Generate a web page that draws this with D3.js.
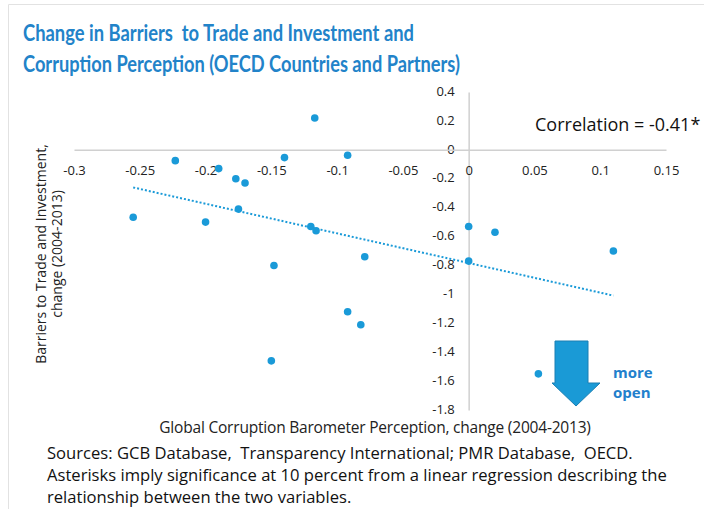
<!DOCTYPE html>
<html>
<head>
<meta charset="utf-8">
<script src="https://cdn.jsdelivr.net/npm/d3@7"></script>
<style>
  body { margin: 0; background: #fff; }
  svg text { font-family: "Open Sans", "Noto Sans", sans-serif; }
</style>
</head>
<body>
<div id="chart"></div>
<script>
// Change in GCB corruption perception (x) vs change in PMR barriers (y), 2004-2013.
var gcbChange = [-0.117, -0.223, -0.190, -0.140, -0.092, -0.177, -0.170, -0.255, -0.200, -0.175, -0.120,
  -0.116, -0.148, -0.079, -0.092, -0.082, -0.150, 0, 0.020, 0.110, 0, 0.053];
var pmrChange = [0.22, -0.075, -0.13, -0.054, -0.038, -0.20, -0.23, -0.467, -0.50, -0.41, -0.53,
  -0.56, -0.80, -0.74, -1.12, -1.21, -1.46, -0.53, -0.57, -0.70, -0.77, -1.55];
var xTicks = [-0.3, -0.25, -0.2, -0.15, -0.1, -0.05, 0, 0.05, 0.1, 0.15];
var yTicks = [0.4, 0.2, 0, -0.2, -0.4, -0.6, -0.8, -1, -1.2, -1.4, -1.6, -1.8];
var titleLines = ['Change in Barriers  to Trade and Investment and',
  'Corruption Perception (OECD Countries and Partners)'];
var yLabelLines = ['Barriers to Trade and Investment,', 'change (2004-2013)'];
var noteLines = ['Sources: GCB Database,  Transparency International; PMR Database,  OECD.',
  'Asterisks imply significance at 10 percent from a linear regression describing the',
  'relationship between the two variables.'];

var width = 704;
var height = 509;
var blue = '#1a9ad8';
var axisGray = '#d0d0d0';

var points = gcbChange.map(function(v, i) { return { x: v, y: pmrChange[i] }; });

var xScale = d3.scaleLinear().domain([-0.3, 0.15]).range([74, 666]);
var yScale = d3.scaleLinear().domain([-1.8, 0.4]).range([410, 92]);

var svg = d3.select('#chart').append('svg')
  .attr('width', width)
  .attr('height', height);

// Light frame at the top and left edge.
svg.append('path')
  .attr('d', 'M8.5,' + height + 'V4.5H' + width)
  .attr('fill', 'none')
  .attr('stroke', '#e2e2e2')
  .attr('stroke-width', 1);

// Title (the original face is a narrow one, so squeeze Lato to its width).
var titleWidths = [391, 437];
svg.append('text')
  .attr('fill', '#2283c9')
  .style('font-family', 'Lato, sans-serif')
  .style('font-weight', 'bold')
  .style('font-size', '22px')
  .selectAll('tspan')
  .data(titleLines)
  .enter().append('tspan')
  .attr('x', 23)
  .attr('y', function(d, i) { return 41 + i * 31; })
  .attr('xml:space', 'preserve')
  .attr('textLength', function(d, i) { return titleWidths[i]; })
  .attr('lengthAdjust', 'spacingAndGlyphs')
  .text(function(d) { return d; });

// Axes cross at zero.
var xAxis = d3.axisBottom(xScale)
  .tickValues(xTicks)
  .tickFormat(function(d) { return String(d); })
  .tickSize(0)
  .tickPadding(16);

var yAxis = d3.axisLeft(yScale)
  .tickValues(yTicks)
  .tickFormat(function(d) { return String(d); })
  .tickSize(0)
  .tickPadding(14);

var gx = svg.append('g')
  .attr('class', 'x axis')
  .attr('transform', 'translate(0,' + yScale(0) + ')')
  .call(xAxis);

var gy = svg.append('g')
  .attr('class', 'y axis')
  .attr('transform', 'translate(' + xScale(0) + ',0)')
  .call(yAxis);

[gx, gy].forEach(function(g) {
  g.select('.domain').attr('stroke', axisGray).attr('stroke-width', 1.5);
  g.selectAll('text')
    .attr('fill', '#222')
    .style('font-size', '13px')
    .style('font-family', '"Open Sans", sans-serif');
});
gy.selectAll('text').attr('dy', '0.25em');
gx.raise();

// Trend line from a least-squares fit.
var meanX = d3.mean(gcbChange);
var meanY = d3.mean(pmrChange);
var sxy = d3.sum(points, function(p) { return (p.x - meanX) * (p.y - meanY); });
var sxx = d3.sum(points, function(p) { return (p.x - meanX) * (p.x - meanX); });
var slope = sxy / sxx;
var intercept = meanY - slope * meanX;
var xExtent = d3.extent(gcbChange);

svg.append('line')
  .attr('x1', xScale(xExtent[0]))
  .attr('y1', yScale(intercept + slope * xExtent[0]))
  .attr('x2', xScale(xExtent[1]))
  .attr('y2', yScale(intercept + slope * xExtent[1]))
  .attr('stroke', blue)
  .attr('stroke-width', 2)
  .attr('stroke-dasharray', '2,2');

// Points.
svg.append('g')
  .selectAll('circle')
  .data(points)
  .enter().append('circle')
  .attr('cx', function(d) { return xScale(d.x); })
  .attr('cy', function(d) { return yScale(d.y); })
  .attr('r', 3.8)
  .attr('fill', blue);

// Correlation note.
svg.append('text')
  .attr('x', 535)
  .attr('y', 131)
  .attr('fill', '#111')
  .style('font-size', '18px')
  .text('Correlation = -0.41*');

// Axis titles.
svg.append('text')
  .attr('text-anchor', 'middle')
  .attr('x', 375)
  .attr('y', 433)
  .attr('fill', '#222')
  .style('font-size', '15.5px')
  .style('letter-spacing', '-0.2px')
  .text('Global Corruption Barometer Perception, change (2004-2013)');

svg.append('text')
  .attr('text-anchor', 'middle')
  .attr('transform', 'translate(46,254) rotate(-90)')
  .attr('fill', '#222')
  .style('font-size', '14px')
  .selectAll('tspan')
  .data(yLabelLines)
  .enter().append('tspan')
  .attr('x', 0)
  .attr('y', function(d, i) { return i * 16; })
  .text(function(d) { return d; });

// "more open" arrow.
var arrow = [[555, 341], [588, 341], [588, 383], [600, 383], [576, 406], [552, 383], [555, 383]];
svg.append('path')
  .attr('d', d3.line()(arrow) + 'Z')
  .attr('fill', '#1a9ad6')
  .attr('stroke', '#1b7fb3')
  .attr('stroke-width', 1);

svg.append('text')
  .attr('fill', '#2280cc')
  .style('font-weight', 'bold')
  .style('font-size', '15px')
  .selectAll('tspan')
  .data(['more', 'open'])
  .enter().append('tspan')
  .attr('x', 613)
  .attr('y', function(d, i) { return 378 + i * 20; })
  .text(function(d) { return d; });

// Footnote.
svg.append('text')
  .attr('fill', '#111')
  .style('font-size', '16.6px')
  .selectAll('tspan')
  .data(noteLines)
  .enter().append('tspan')
  .attr('x', 47)
  .attr('y', function(d, i) { return 459 + i * 22; })
  .attr('xml:space', 'preserve')
  .text(function(d) { return d; });
</script>
</body>
</html>
